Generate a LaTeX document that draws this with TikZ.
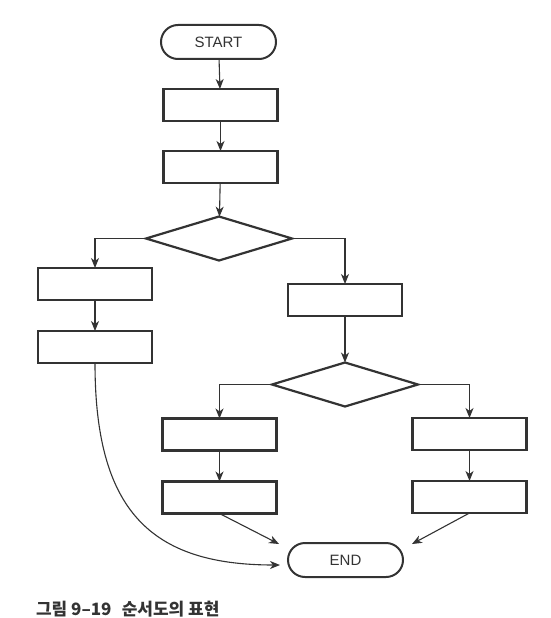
\documentclass[tikz,border=0pt]{standalone}
\usepackage{fontspec}
\setmainfont{Liberation Sans}
\newfontfamily\cjk{Noto Sans CJK KR}
\usetikzlibrary{shapes.geometric,arrows.meta}
\definecolor{ink}{HTML}{333333}
\tikzset{
  every node/.style={inner sep=0pt,outer sep=0pt},
  procbox/.style={draw=ink,line width=2.2pt,rectangle,minimum width=114pt,minimum height=32pt},
  termbox/.style={draw=ink,line width=2pt,rectangle,rounded corners=17pt,minimum width=115pt,minimum height=34pt,font=\fontsize{15}{18}\selectfont,text=ink},
  decbox/.style={draw=ink,line width=2.2pt,diamond,minimum width=146pt,minimum height=44pt},
  flow/.style={draw=ink,line width=1.1pt,-{Stealth[length=10pt,width=8pt,inset=3pt]}},
}
\begin{document}
\begin{tikzpicture}[x=1pt,y=-1pt]
\useasboundingbox (0,0) rectangle (550,618);
\node[termbox] (start) at (218.5,42) {START};
\node[procbox] (b1) at (220.5,105) {};
\node[procbox] (b2) at (220.5,167) {};
\node[decbox] (d1) at (219,238.5) {};
\node[procbox] (l1) at (95,284) {};
\node[procbox] (l2) at (95,347) {};
\node[procbox] (r1) at (345,300) {};
\node[decbox] (d2) at (345,384.5) {};
\node[procbox] (ll1) at (219.5,434.5) {};
\node[procbox] (ll2) at (219.5,497.5) {};
\node[procbox] (rr1) at (469.5,434) {};
\node[procbox] (rr2) at (469.5,497) {};
\node[termbox] (end) at (345.5,560) {END};
\coordinate (e1) at (280,565);
\coordinate (e2) at (279,544);
\coordinate (e3) at (412,544);
\node[anchor=base west,font=\cjk\bfseries\fontsize{17}{19}\selectfont,text=ink] (cap) at (36,615) {그림 9–19\hspace{0.6em}순서도의 표현};
\draw[flow] (start) -- (b1);
\draw[flow] (b1) -- (b2);
\draw[flow] (b2) -- (d1);
\draw[flow] (d1.west) -| (l1.north);
\draw[flow] (d1.east) -| (r1.north);
\draw[flow] (l1) -- (l2);
\draw[flow] (r1) -- (d2);
\draw[flow] (d2.west) -| (ll1.north);
\draw[flow] (d2.east) -| (rr1.north);
\draw[flow] (ll1) -- (ll2);
\draw[flow] (rr1) -- (rr2);
\draw[flow] (ll2.south) -- (e2);
\draw[flow] (rr2.south) -- (e3);
\draw[flow] (l2.south) .. controls (95,510) and (150,565) .. (e1);
\end{tikzpicture}
\end{document}
